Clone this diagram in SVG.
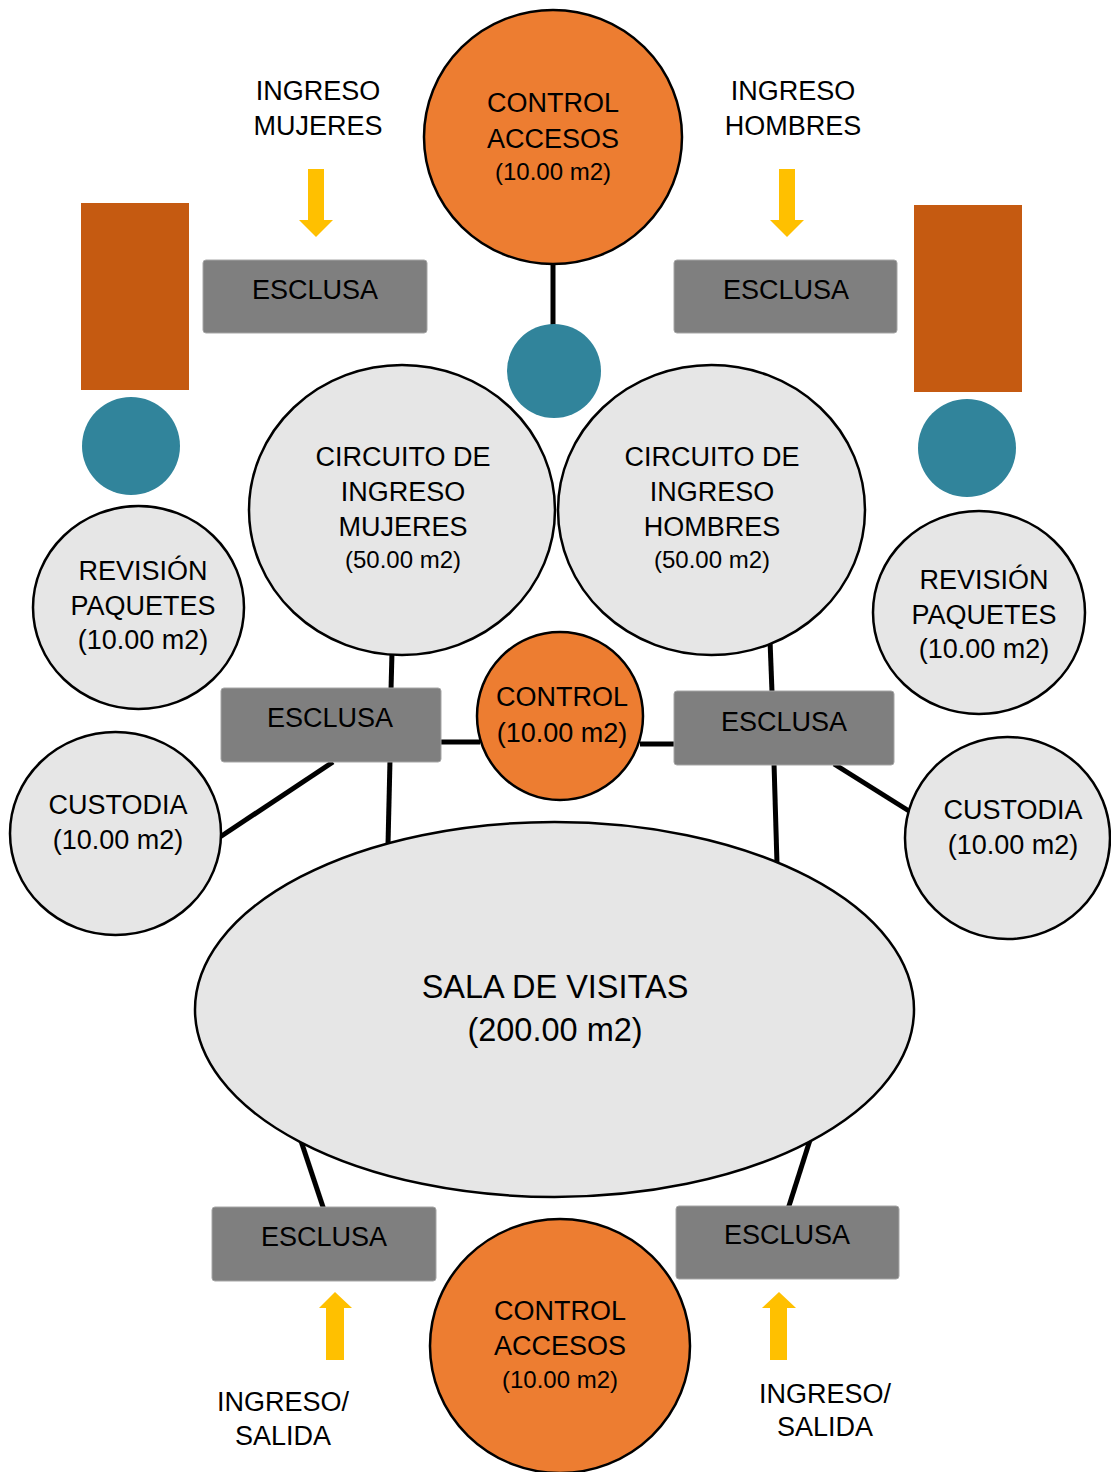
<svg xmlns="http://www.w3.org/2000/svg" width="1111" height="1472" viewBox="0 0 1111 1472">
<style>
text{font-family:"Liberation Sans",Arial,sans-serif;fill:#000;text-anchor:middle}
.t{font-size:27px}
.s{font-size:24px}
.b{font-size:32.5px}
.gray{fill:#E6E6E6;stroke:#000;stroke-width:2.5}
.org{fill:#ED7D31;stroke:#000;stroke-width:2.5}
.box{fill:#7F7F7F;stroke:#A6A6A6;stroke-width:1}
.teal{fill:#31849B}
.rust{fill:#C55A11}
.arr{fill:#FFC000}
.con{stroke:#000;stroke-width:5;fill:none}
</style>
<rect width="1111" height="1472" fill="#fff"/>
<g id="connectors">
<line class="con" x1="553" y1="262" x2="553" y2="330"/>
<line class="con" x1="392" y1="652" x2="391" y2="690"/>
<line class="con" x1="390" y1="760" x2="388" y2="845"/>
<line class="con" x1="439" y1="742" x2="480" y2="742"/>
<line class="con" x1="333" y1="762" x2="220" y2="837"/>
<line class="con" x1="770" y1="640" x2="772" y2="692"/>
<line class="con" x1="774" y1="763" x2="777" y2="864"/>
<line class="con" x1="640" y1="744" x2="676" y2="744"/>
<line class="con" x1="834" y1="764" x2="909" y2="811"/>
<line class="con" x1="300" y1="1138" x2="324" y2="1210"/>
<line class="con" x1="810" y1="1140" x2="788" y2="1209"/>
</g>
<g id="arrow-mujeres"><polygon class="arr" points="308,169 324,169 324,220 333,220 316,237 299,220 308,220"/></g>
<g id="arrow-hombres"><polygon class="arr" points="779,169 795,169 795,220 804,220 787,237 770,220 779,220"/></g>
<g id="arrow-salida-izq"><polygon class="arr" points="326,1360 344,1360 344,1308 352,1308 335,1292 319,1308 326,1308"/></g>
<g id="arrow-salida-der"><polygon class="arr" points="770,1360 787,1360 787,1308 796,1308 779,1292 762,1308 770,1308"/></g>
<g id="label-mujeres"><text class="t" x="318" y="100">INGRESO</text><text class="t" x="318" y="135">MUJERES</text></g>
<g id="label-hombres"><text class="t" x="793" y="100">INGRESO</text><text class="t" x="793" y="135">HOMBRES</text></g>
<g id="label-salida-izq"><text class="t" x="283" y="1411">INGRESO/</text><text class="t" x="283" y="1445">SALIDA</text></g>
<g id="label-salida-der"><text class="t" x="825" y="1403">INGRESO/</text><text class="t" x="825" y="1436">SALIDA</text></g>
<g id="control-accesos-top"><ellipse class="org" cx="553" cy="137" rx="129" ry="127"/><text class="t" x="553" y="112">CONTROL</text><text class="t" x="553" y="148">ACCESOS</text><text class="s" x="553" y="180">(10.00 m2)</text></g>
<g id="rect-izq"><rect class="rust" x="81" y="203" width="108" height="187"/></g>
<g id="rect-der"><rect class="rust" x="914" y="205" width="108" height="187"/></g>
<g id="teal-izq"><ellipse class="teal" cx="131" cy="446" rx="49" ry="49"/></g>
<g id="teal-der"><ellipse class="teal" cx="967" cy="448" rx="49" ry="49"/></g>
<g id="esclusa-top-izq"><rect class="box" x="203" y="260" width="224" height="73" rx="3"/><text class="t" x="315" y="299">ESCLUSA</text></g>
<g id="esclusa-top-der"><rect class="box" x="674" y="260" width="223" height="73" rx="3"/><text class="t" x="786" y="299">ESCLUSA</text></g>
<g id="circuito-mujeres"><ellipse class="gray" cx="402" cy="510" rx="153" ry="145"/><text class="t" x="403" y="466">CIRCUITO DE</text><text class="t" x="403" y="501">INGRESO</text><text class="t" x="403" y="536">MUJERES</text><text class="s" x="403" y="568">(50.00 m2)</text></g>
<g id="circuito-hombres"><ellipse class="gray" cx="711.5" cy="510" rx="153.5" ry="145"/><text class="t" x="712" y="466">CIRCUITO DE</text><text class="t" x="712" y="501">INGRESO</text><text class="t" x="712" y="536">HOMBRES</text><text class="s" x="712" y="568">(50.00 m2)</text></g>
<g id="teal-centro"><ellipse class="teal" cx="554" cy="371" rx="47" ry="47"/></g>
<g id="revision-izq"><ellipse class="gray" cx="138.5" cy="607.5" rx="105.5" ry="101.5"/><text class="t" x="143" y="580">REVISIÓN</text><text class="t" x="143" y="615">PAQUETES</text><text class="t" x="143" y="649">(10.00 m2)</text></g>
<g id="revision-der"><ellipse class="gray" cx="979" cy="612.5" rx="106" ry="101.5"/><text class="t" x="984" y="589">REVISIÓN</text><text class="t" x="984" y="624">PAQUETES</text><text class="t" x="984" y="658">(10.00 m2)</text></g>
<g id="custodia-izq"><ellipse class="gray" cx="115.5" cy="833.5" rx="105.5" ry="101.5"/><text class="t" x="118" y="814">CUSTODIA</text><text class="t" x="118" y="849">(10.00 m2)</text></g>
<g id="custodia-der"><ellipse class="gray" cx="1007.5" cy="838" rx="102.5" ry="101"/><text class="t" x="1013" y="819">CUSTODIA</text><text class="t" x="1013" y="854">(10.00 m2)</text></g>
<g id="esclusa-mid-izq"><rect class="box" x="221" y="688" width="220" height="74" rx="3"/><text class="t" x="330" y="727">ESCLUSA</text></g>
<g id="esclusa-mid-der"><rect class="box" x="674" y="691" width="220" height="74" rx="3"/><text class="t" x="784" y="731">ESCLUSA</text></g>
<g id="control-centro"><ellipse class="org" cx="560" cy="716" rx="83" ry="84"/><text class="t" x="562" y="706">CONTROL</text><text class="t" x="562" y="742">(10.00 m2)</text></g>
<g id="sala-visitas"><ellipse class="gray" cx="554.5" cy="1009.5" rx="359.5" ry="187.5"/><text class="b" x="555" y="998">SALA DE VISITAS</text><text class="b" x="555" y="1041">(200.00 m2)</text></g>
<g id="esclusa-bot-izq"><rect class="box" x="212" y="1207" width="224" height="74" rx="3"/><text class="t" x="324" y="1246">ESCLUSA</text></g>
<g id="esclusa-bot-der"><rect class="box" x="676" y="1206" width="223" height="73" rx="3"/><text class="t" x="787" y="1244">ESCLUSA</text></g>
<g id="control-accesos-bot"><ellipse class="org" cx="560" cy="1346" rx="130" ry="127"/><text class="t" x="560" y="1320">CONTROL</text><text class="t" x="560" y="1355">ACCESOS</text><text class="s" x="560" y="1388">(10.00 m2)</text></g>
</svg>
